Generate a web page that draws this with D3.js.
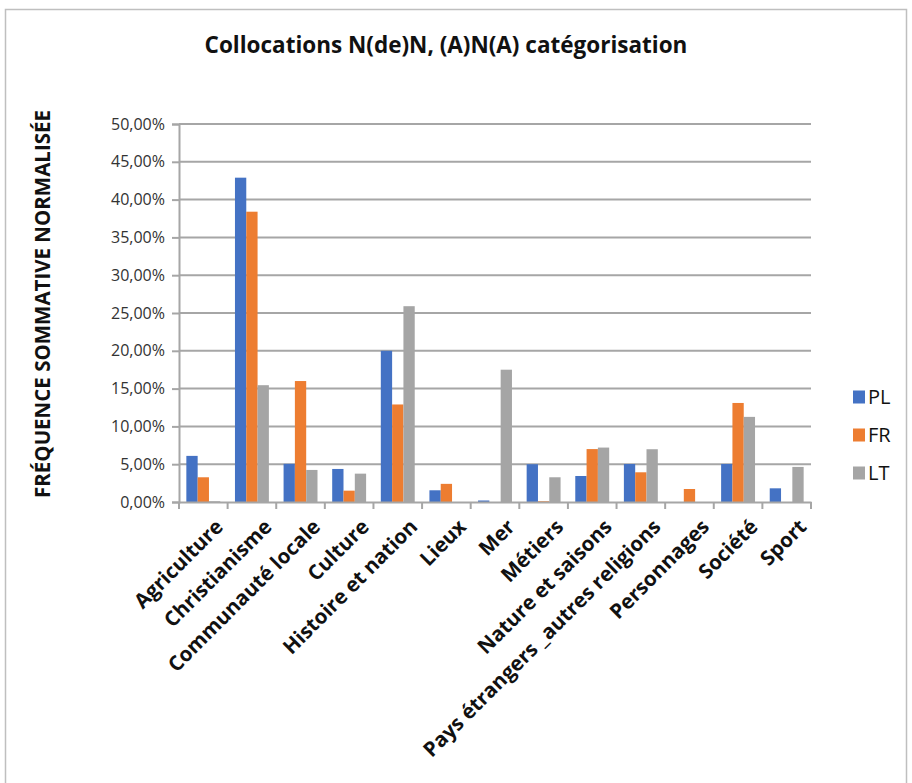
<!DOCTYPE html>
<html>
<head>
<meta charset="utf-8">
<script src="https://cdn.jsdelivr.net/npm/d3@7/dist/d3.min.js"></script>
<style>
  html, body { margin: 0; padding: 0; background: #fff; }
  svg { display: block; font-family: "Open Sans", "Noto Sans", sans-serif; }
</style>
</head>
<body>
<svg id="chart" width="912" height="783"></svg>
<script>
// Categories and series (normalised cumulative frequency, as fractions)
const categories = [
  "Agriculture", "Christianisme", "Communauté locale", "Culture",
  "Histoire et nation", "Lieux", "Mer", "Métiers", "Nature et saisons",
  "Pays étrangers _autres religions", "Personnages", "Société", "Sport"
];
const seriesNames = ["PL", "FR", "LT"];
const plValues = [0.061, 0.429, 0.0505, 0.0437, 0.200, 0.0155, 0.002, 0.050, 0.0344, 0.0503, 0.000, 0.0503, 0.0181];
const frValues = [0.0327, 0.384, 0.160, 0.015, 0.129, 0.024, 0.000, 0.001, 0.070, 0.0393, 0.0172, 0.131, 0.000];
const ltValues = [0.001, 0.1545, 0.0424, 0.0375, 0.259, 0.000, 0.175, 0.0327, 0.072, 0.0698, 0.000, 0.1126, 0.0464];
const seriesColors = ["#4472C4", "#ED7D31", "#A5A5A5"];
const yTicks = [0, 0.05, 0.10, 0.15, 0.20, 0.25, 0.30, 0.35, 0.40, 0.45, 0.50];

const chartTitle = "Collocations N(de)N, (A)N(A) catégorisation";
const yTitle = "FRÉQUENCE SOMMATIVE NORMALISÉE";

const seriesData = [plValues, frValues, ltValues];

const svg = d3.select("#chart");

// Outer frame
svg.append("rect")
  .attr("x", 5.5).attr("y", 9.5)
  .attr("width", 901).attr("height", 800)
  .attr("fill", "#fff")
  .attr("stroke", "#bfbfbf").attr("stroke-width", 1.5);

const plot = { left: 179, right: 811, top: 124, bottom: 502 };

const x = d3.scaleBand().domain(categories).range([plot.left, plot.right]).padding(0);
const xs = d3.scaleBand().domain(seriesNames).range([0, x.bandwidth()])
  .paddingInner(0).paddingOuter(0.65);
const y = d3.scaleLinear().domain([0, 0.5]).range([plot.bottom, plot.top]);

const locale = d3.formatLocale({ decimal: ",", thousands: " ", grouping: [3], currency: ["", "€"] });
const pct = locale.format(".2%");

// Horizontal gridlines
svg.append("g")
  .selectAll("line")
  .data(yTicks.filter(d => d > 0))
  .join("line")
  .attr("x1", plot.left).attr("x2", plot.right)
  .attr("y1", d => y(d)).attr("y2", d => y(d))
  .attr("stroke", "#a6a6a6").attr("stroke-width", 2);

// Bars
const groups = svg.append("g")
  .selectAll("g")
  .data(seriesNames.map((s, i) => ({ name: s, color: seriesColors[i], values: seriesData[i] })))
  .join("g")
  .attr("fill", d => d.color);

groups.selectAll("rect")
  .data(d => d.values.map((v, j) => ({ series: d.name, cat: categories[j], v })))
  .join("rect")
  .attr("x", d => x(d.cat) + xs(d.series))
  .attr("width", xs.bandwidth())
  .attr("y", d => y(d.v))
  .attr("height", d => y(0) - y(d.v));

// Y axis
const yAxis = svg.append("g")
  .attr("transform", `translate(${plot.left},0)`)
  .call(d3.axisLeft(y).tickValues(yTicks).tickFormat(pct).tickSize(7).tickPadding(7));
yAxis.select(".domain").attr("stroke", "#a6a6a6").attr("stroke-width", 2);
yAxis.selectAll(".tick line").attr("stroke", "#a6a6a6").attr("stroke-width", 2);
yAxis.selectAll(".tick text")
  .attr("font-size", 16).attr("fill", "#333")
  .attr("font-family", "'Open Sans', sans-serif");

// X axis
const xAxis = svg.append("g")
  .attr("transform", `translate(0,${plot.bottom})`)
  .call(d3.axisBottom(x).tickSize(0).tickFormat(""));
xAxis.select(".domain").attr("stroke", "#a6a6a6").attr("stroke-width", 2);

// Category boundary ticks
svg.append("g")
  .selectAll("line")
  .data(d3.range(categories.length + 1))
  .join("line")
  .attr("x1", i => plot.left + i * x.step())
  .attr("x2", i => plot.left + i * x.step())
  .attr("y1", plot.bottom).attr("y2", plot.bottom + 7)
  .attr("stroke", "#a6a6a6").attr("stroke-width", 2);

// Rotated category labels
svg.append("g")
  .selectAll("text")
  .data(categories)
  .join("text")
  .attr("transform", d => `translate(${x(d) + x.bandwidth() / 2 + 16},${plot.bottom + 21}) rotate(-45)`)
  .attr("text-anchor", "end")
  .attr("dy", "0.35em")
  .attr("font-size", 20.5)
  .attr("font-weight", 700)
  .attr("fill", "#111")
  .text(d => d);

// Title
svg.append("text")
  .attr("x", 446).attr("y", 53)
  .attr("text-anchor", "middle")
  .attr("font-size", 22.5)
  .attr("font-weight", 700)
  .attr("fill", "#111")
  .text(chartTitle);

// Y axis title
svg.append("text")
  .attr("transform", `translate(50,304) rotate(-90)`)
  .attr("text-anchor", "middle")
  .attr("font-size", 20.5)
  .attr("font-weight", 700)
  .attr("fill", "#111")
  .text(yTitle);

// Legend
const legend = svg.append("g")
  .selectAll("g")
  .data(seriesNames)
  .join("g")
  .attr("transform", (d, i) => `translate(853,${397 + i * 38})`);
legend.append("rect")
  .attr("x", 0).attr("y", -6.5)
  .attr("width", 12).attr("height", 13)
  .attr("fill", (d, i) => seriesColors[i]);
legend.append("text")
  .attr("x", 15).attr("dy", "0.36em")
  .attr("font-size", 20)
  .attr("fill", "#111")
  .text(d => d);
</script>
</body>
</html>
